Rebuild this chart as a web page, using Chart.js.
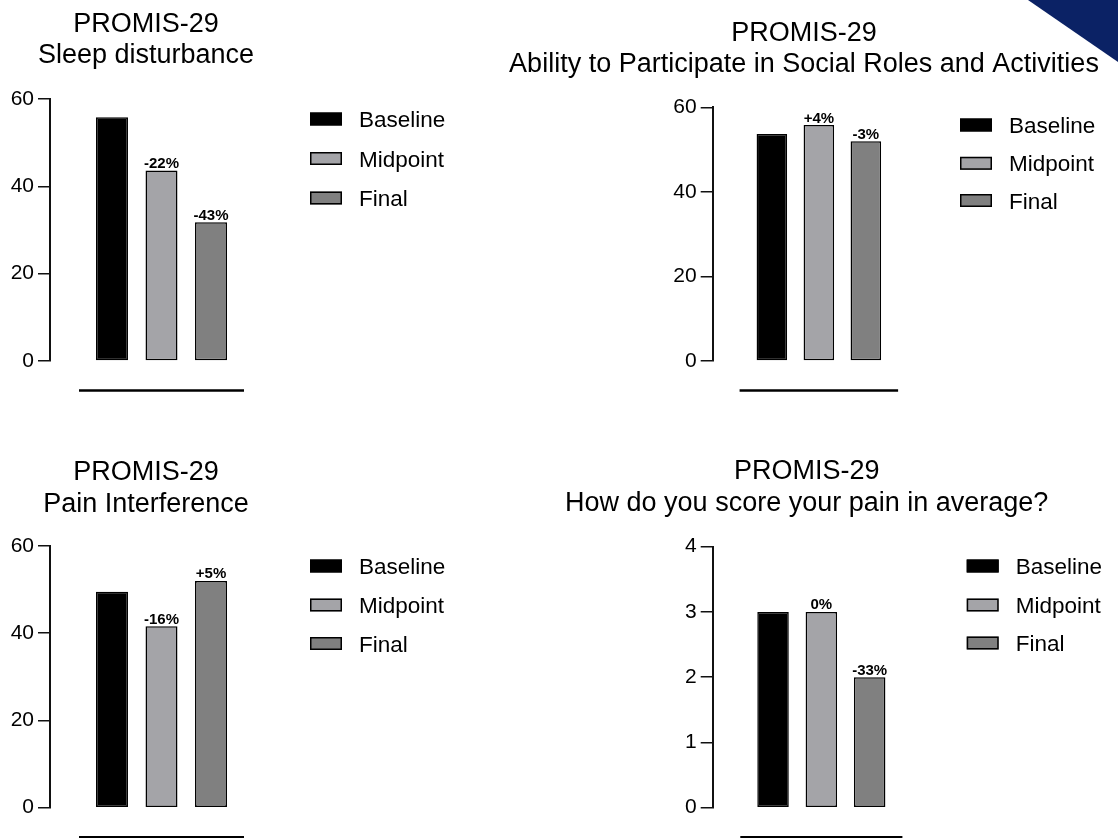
<!DOCTYPE html>
<html>
<head>
<meta charset="utf-8">
<title>PROMIS-29</title>
<script src="https://cdn.jsdelivr.net/npm/chart.js@4.4.0/dist/chart.umd.min.js"></script>
<style>
  html, body { margin: 0; padding: 0; background: #fff; }
  #page { position: relative; width: 1118px; height: 838px; overflow: hidden; }
  #page canvas { position: absolute; }
  #corner {
    position: absolute; top: 0; right: 0; width: 90px; height: 62px;
    background: #0b2265; clip-path: polygon(0 0, 100% 0, 100% 100%);
  }
</style>
</head>
<body>
<div id="page">
  <canvas id="sleepChart" width="500" height="420" style="left:0;top:0"></canvas>
  <canvas id="socialChart" width="618" height="420" style="left:500px;top:0"></canvas>
  <canvas id="painChart" width="500" height="418" style="left:0;top:420px"></canvas>
  <canvas id="averageChart" width="618" height="418" style="left:500px;top:420px"></canvas>
  <div id="corner"></div>
</div>
<script>
// Scores per timepoint
const timepoints = ['Baseline', 'Midpoint', 'Final'];
const sleepScores = [55.8, 43.6, 31.8];
const socialScores = [53.7, 55.8, 52.0];
const painScores = [49.5, 41.6, 52.0];
const averagePainScores = [3, 3, 2];

// Y axis ticks
const tScoreTicks = [0, 20, 40, 60];
const ratingTicks = [0, 1, 2, 3, 4];

// Panel titles
const sleepTitle = ['PROMIS-29', 'Sleep disturbance'];
const socialTitle = ['PROMIS-29', 'Ability to Participate in Social Roles and Activities'];
const painTitle = ['PROMIS-29', 'Pain Interference'];
const averageTitle = ['PROMIS-29', 'How do you score your pain in average?'];

const FONT = "'Liberation Sans', Arial, Helvetica, sans-serif";
const barColors = ['#000000', '#a4a4a8', '#808080'];

Chart.defaults.font.family = FONT;
Chart.defaults.color = '#000';

// Title, % change labels, floating baseline and legend for one panel
function makeDecor(title, layout) {
  return {
    id: 'panelDecor',
    afterDatasetsDraw(chart) {
      const ctx = chart.ctx;
      ctx.save();
      ctx.fillStyle = '#000';
      ctx.textAlign = 'center';
      ctx.textBaseline = 'alphabetic';

      ctx.font = '27px ' + FONT;
      title.forEach((line, i) => ctx.fillText(line, layout.titleX, layout.titleY + i * 31.6));

      // change vs baseline above midpoint / final bars
      const base = chart.data.datasets[0].data[0];
      ctx.font = 'bold 15px ' + FONT;
      chart.data.datasets.forEach((ds, i) => {
        if (i === 0) return;
        const bar = chart.getDatasetMeta(i).data[0];
        const pct = Math.round((ds.data[0] / base - 1) * 100);
        ctx.fillText((pct > 0 ? '+' : '') + pct + '%', bar.x, bar.y - 2.5);
      });

      // detached x axis line under the bar group
      const first = chart.getDatasetMeta(0).data[0];
      const last = chart.getDatasetMeta(chart.data.datasets.length - 1).data[0];
      const y = chart.chartArea.bottom + 29.5;
      ctx.beginPath();
      ctx.lineWidth = 2.5;
      ctx.strokeStyle = '#000';
      ctx.moveTo(first.x - first.width / 2 - 17, y);
      ctx.lineTo(last.x + last.width / 2 + 17, y);
      ctx.stroke();

      // legend
      ctx.textAlign = 'left';
      ctx.font = '22.5px ' + FONT;
      ctx.lineWidth = 1.5;
      chart.data.datasets.forEach((ds, i) => {
        const rowY = layout.legendRows[i];
        ctx.fillStyle = ds.backgroundColor;
        ctx.fillRect(layout.legendX, rowY - 6.5, 32, 13);
        ctx.strokeRect(layout.legendX + 0.75, rowY - 5.75, 30.5, 11.5);
        ctx.fillStyle = '#000';
        ctx.fillText(ds.label, layout.legendX + 49, rowY + 8);
      });
      ctx.restore();
    }
  };
}

function drawPanel(canvasId, title, scores, ticks, layout) {
  const canvas = document.getElementById(canvasId);
  return new Chart(canvas, {
    type: 'bar',
    data: {
      labels: [''],
      datasets: timepoints.map((name, i) => ({
        label: name,
        data: [scores[i]],
        backgroundColor: barColors[i],
        borderColor: '#000',
        borderWidth: 1.5,
        borderSkipped: false,
        categoryPercentage: layout.catPct,
        barPercentage: layout.barPct
      }))
    },
    options: {
      responsive: false,
      animation: false,
      events: [],
      layout: {
        padding: {
          left: 0,
          top: layout.top,
          right: canvas.width - layout.right,
          bottom: canvas.height - layout.bottom
        }
      },
      plugins: {
        legend: { display: false },
        title: { display: false },
        tooltip: { enabled: false }
      },
      scales: {
        x: { display: false },
        y: {
          min: ticks[0],
          max: ticks[ticks.length - 1],
          afterBuildTicks: scale => { scale.ticks = ticks.map(v => ({ value: v })); },
          afterFit: scale => { scale.width = layout.axisX; },
          ticks: { color: '#000', font: { size: 21 }, padding: 4 },
          grid: { drawOnChartArea: false, drawTicks: true, tickLength: 12, color: '#111', lineWidth: 1.5 },
          border: { display: true, color: '#111', width: 2 }
        }
      }
    },
    plugins: [makeDecor(title, layout)]
  });
}

drawPanel('sleepChart', sleepTitle, sleepScores, tScoreTicks, {
  axisX: 50, top: 99, bottom: 361, right: 273, catPct: 0.666, barPct: 0.646,
  titleX: 146, titleY: 31.7, legendX: 310, legendRows: [119, 158.5, 198]
});
drawPanel('socialChart', socialTitle, socialScores, tScoreTicks, {
  axisX: 212.7, top: 107.3, bottom: 361, right: 425, catPct: 0.664, barPct: 0.65,
  titleX: 304, titleY: 40.7, legendX: 460, legendRows: [125, 163.3, 200.5]
});
drawPanel('painChart', painTitle, painScores, tScoreTicks, {
  axisX: 50, top: 126, bottom: 387.7, right: 273, catPct: 0.666, barPct: 0.646,
  titleX: 146, titleY: 60, legendX: 310, legendRows: [146, 185, 223.5]
});
drawPanel('averageChart', averageTitle, averagePainScores, ratingTicks, {
  axisX: 212.7, top: 126.7, bottom: 387.7, right: 430, catPct: 0.667, barPct: 0.652,
  titleX: 306.7, titleY: 59, legendX: 466.7, legendRows: [146, 185, 223]
});
</script>
</body>
</html>
